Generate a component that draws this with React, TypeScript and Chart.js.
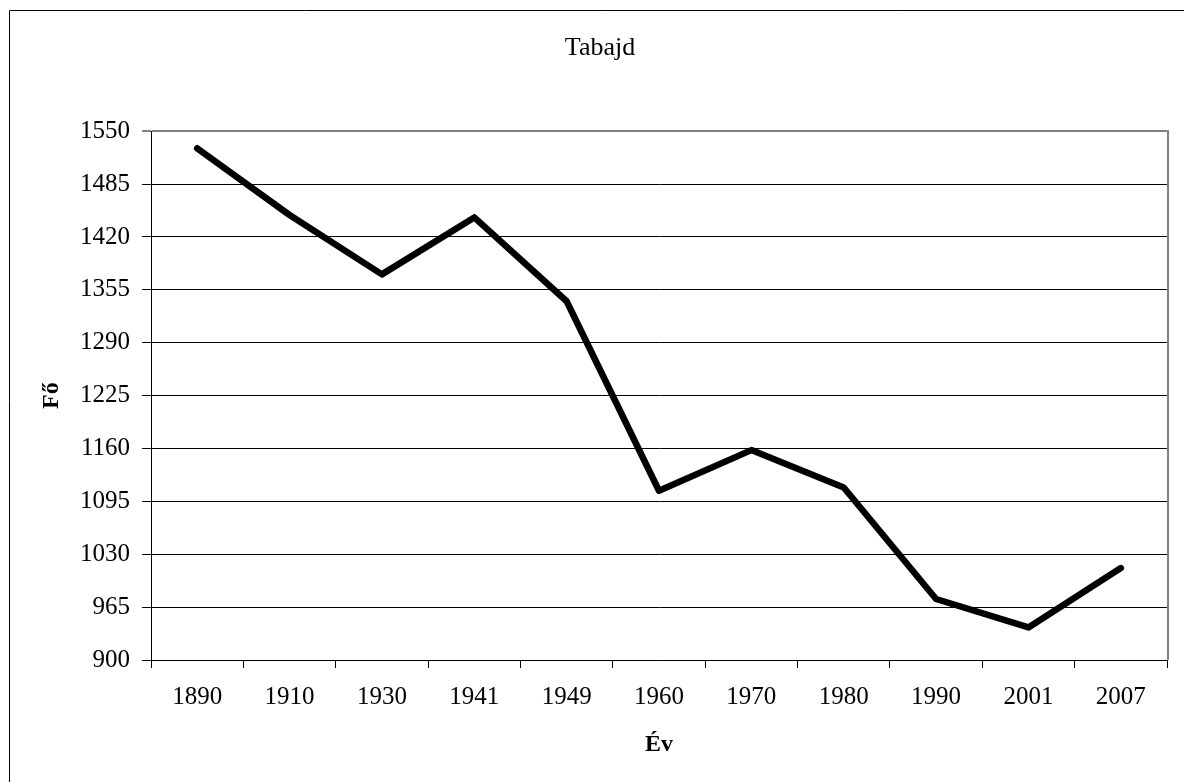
import React, { useEffect, useRef } from "react";
import { Chart, registerables } from "chart.js";

Chart.register(...registerables);

const years = ["1890", "1910", "1930", "1941", "1949", "1960", "1970", "1980", "1990", "2001", "2007"];
const population = [1529, 1447, 1374, 1444, 1341, 1108, 1158, 1112, 975, 940, 1013];
const yMin = 900;
const yMax = 1550;
const yStep = 65;
const chartTitle = "Tabajd";
const xTitle = "Év";
const yTitle = "Fő";

const FONT = "'Liberation Serif', 'Times New Roman', serif";

const framePlugin = {
  id: "frame",
  afterDraw(chart: any) {
    const { ctx, chartArea } = chart;
    ctx.save();
    ctx.strokeStyle = "#000";
    ctx.lineWidth = 1;
    ctx.beginPath();
    ctx.moveTo(1.5, chart.height + 10);
    ctx.lineTo(1.5, 2.5);
    ctx.lineTo(chart.width + 10, 2.5);
    ctx.stroke();
    ctx.strokeStyle = "#808080";
    ctx.lineWidth = 2;
    ctx.beginPath();
    const r = Math.round(chartArea.right) + 1;
    ctx.moveTo(r, chartArea.top - 1);
    ctx.lineTo(r, chartArea.bottom);
    ctx.stroke();
    ctx.restore();
  },
};

export default function App() {
  const ref = useRef<HTMLCanvasElement | null>(null);
  useEffect(() => {
    if (!ref.current) return;
    const chart = new Chart(ref.current, {
      type: "line",
      data: {
        labels: years,
        datasets: [
          {
            data: population,
            borderColor: "#000",
            borderWidth: 6.5,
            pointRadius: 0,
            borderCapStyle: "round",
            borderJoinStyle: "round",
            tension: 0,
            fill: false,
          },
        ],
      },
      options: {
        responsive: false,
        animation: false,
        devicePixelRatio: 1,
        layout: { padding: { left: 25, right: 25, top: 0, bottom: 0 } },
        plugins: {
          legend: { display: false },
          tooltip: { enabled: false },
          title: {
            display: true,
            text: chartTitle,
            color: "#000",
            font: { family: FONT, size: 26, weight: "normal" },
            padding: { top: 25, bottom: 67 },
          },
        },
        scales: {
          x: {
            type: "category",
            offset: true,
            afterFit: (scale: any) => {
              scale.height = 130;
            },
            grid: {
              offset: true,
              drawOnChartArea: false,
              drawTicks: true,
              tickLength: 8,
              color: "#000",
            },
            border: { display: true, color: "#000", width: 1 },
            ticks: {
              color: "#000",
              font: { family: FONT, size: 25 },
              padding: 14,
              maxRotation: 0,
              autoSkip: false,
            },
            title: {
              display: true,
              text: xTitle,
              color: "#000",
              font: { family: FONT, size: 24, weight: "bold" },
              padding: { top: 0, bottom: 31 },
            },
          },
          y: {
            type: "linear",
            min: yMin,
            max: yMax,
            afterFit: (scale: any) => {
              scale.width = 118;
            },
            grid: {
              color: (c: any) => (c.tick && c.tick.value === yMax ? "#808080" : "#000"),
              lineWidth: (c: any) => (c.tick && c.tick.value === yMax ? 2 : 1),
              tickLength: 9,
              drawTicks: true,
            },
            border: { display: true, color: "#000", width: 1 },
            ticks: {
              stepSize: yStep,
              color: "#000",
              font: { family: FONT, size: 25 },
              padding: 12,
              callback: (v: any) => String(v),
            },
            title: {
              display: true,
              text: yTitle,
              color: "#000",
              font: { family: FONT, size: 24, weight: "bold" },
              padding: { top: 4, bottom: 0 },
            },
          },
        },
      },
      plugins: [framePlugin],
    });
    return () => chart.destroy();
  }, []);

  return (
    <div style={{ position: "fixed", left: 8, top: 8, width: 1176, height: 774, overflow: "hidden" }}>
      <canvas ref={ref} width={1184} height={782} style={{ display: "block", width: 1184, height: 782 }} />
    </div>
  );
}
